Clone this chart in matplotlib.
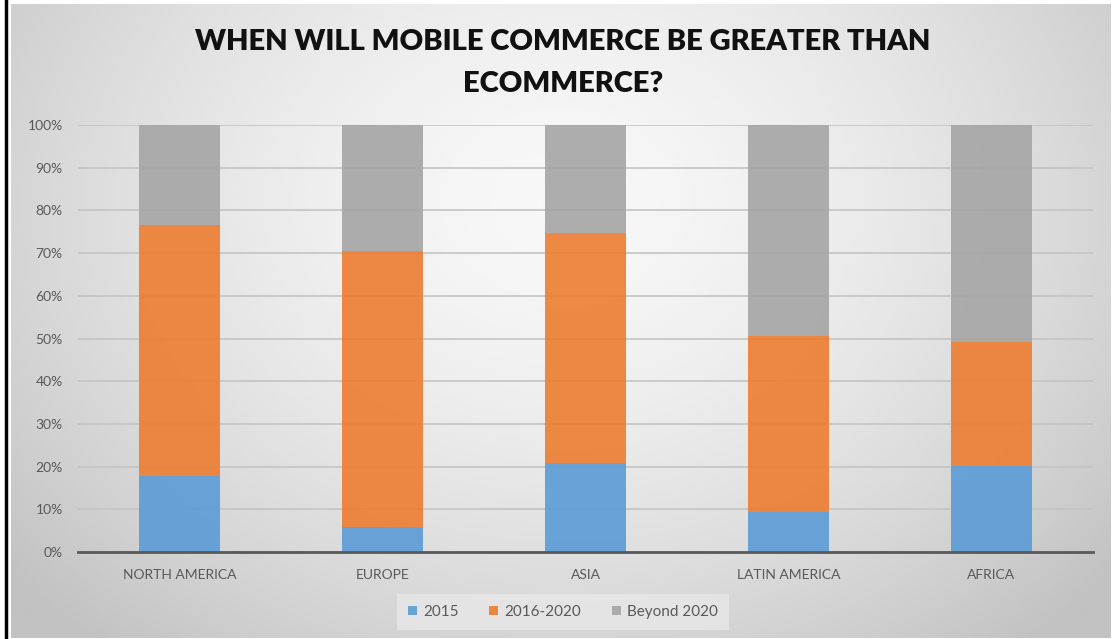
import numpy as np
import matplotlib.pyplot as plt
from matplotlib.patches import Patch
from matplotlib.lines import Line2D

regions = ['NORTH AMERICA', 'EUROPE', 'ASIA', 'LATIN AMERICA', 'AFRICA']
series = ['2015', '2016-2020', 'Beyond 2020']
share_2015 = [17.7, 5.9, 20.9, 9.4, 20.2]
share_2016_2020 = [58.9, 64.5, 53.9, 41.3, 29.0]
share_beyond = [23.4, 29.6, 25.2, 49.3, 50.8]
colours = ['#5B9BD5', '#ED7D31', '#A5A5A5']
yticks = [0, 10, 20, 30, 40, 50, 60, 70, 80, 90, 100]

plt.rcParams['font.family'] = ['Lato', 'DejaVu Sans']

W, H = 1118, 639
fig = plt.figure(figsize=(W / 100, H / 100), dpi=100)
fig.patch.set_facecolor('white')

# soft radial gradient behind the chart
bg = fig.add_axes([11 / W, 1 - 638 / H, 1100 / W, 634 / H])
gx, gy = np.meshgrid(np.linspace(0, 1100, 400), np.linspace(0, 634, 240))
r = np.hypot((gx - 550) / 1.0, (gy - 200) * 1.25) / 700
shade = np.clip(0.97 - 0.2 * r ** 1.6, 0.76, 0.97)
bg.imshow(shade, cmap='gray', vmin=0, vmax=1, aspect='auto',
          extent=[0, 1, 0, 1], interpolation='bicubic')
bg.axis('off')

fig.add_artist(Line2D([6 / W, 6 / W], [0, 1], color='black', lw=2.5))

ax = fig.add_axes([78 / W, 1 - 552 / H, (1093 - 78) / W, (552 - 125) / H])
ax.set_facecolor('none')

x = np.arange(len(regions))
bottom = np.zeros(len(regions))
for vals, col in zip([share_2015, share_2016_2020, share_beyond], colours):
    ax.bar(x, vals, 0.4, bottom=bottom, color=col, alpha=0.9, zorder=2)
    bottom += np.array(vals)

ax.set_xlim(-0.5, len(regions) - 0.5)
ax.set_ylim(0, 100)
ax.set_yticks(yticks)
ax.set_yticklabels([f'{t}%' for t in yticks])
ax.set_xticks(x)
ax.set_xticklabels(regions)
ax.tick_params(axis='both', length=0, colors='#595959', labelsize=10)
ax.tick_params(axis='y', pad=11)
ax.tick_params(axis='x', pad=12)
ax.set_axisbelow(True)
ax.yaxis.grid(True, color='#c4c4c4', lw=1.2)
for side in ['top', 'right', 'left']:
    ax.spines[side].set_visible(False)
ax.spines['bottom'].set_color('#595959')
ax.spines['bottom'].set_linewidth(2)

fig.text(563 / W, 1 - 42 / H, 'WHEN WILL MOBILE COMMERCE BE GREATER THAN',
         ha='center', va='center', fontsize=21, fontweight='heavy', color='#111111')
fig.text(563 / W, 1 - 84 / H, 'ECOMMERCE?',
         ha='center', va='center', fontsize=21, fontweight='heavy', color='#111111')

handles = [Patch(facecolor=c, alpha=0.9) for c in colours]
leg = fig.legend(handles, series, loc='center', bbox_to_anchor=(563 / W, 1 - 612 / H),
                 ncol=3, frameon=True, fontsize=11, handlelength=0.6, handleheight=0.6,
                 handletextpad=0.4, columnspacing=2.0, borderpad=0.55)
leg.get_frame().set_facecolor('#e8e8e8')
leg.get_frame().set_edgecolor('none')
leg.get_frame().set_boxstyle('square', pad=0.2)
for t in leg.get_texts():
    t.set_color('#595959')

fig.savefig('out.png', dpi=100)
